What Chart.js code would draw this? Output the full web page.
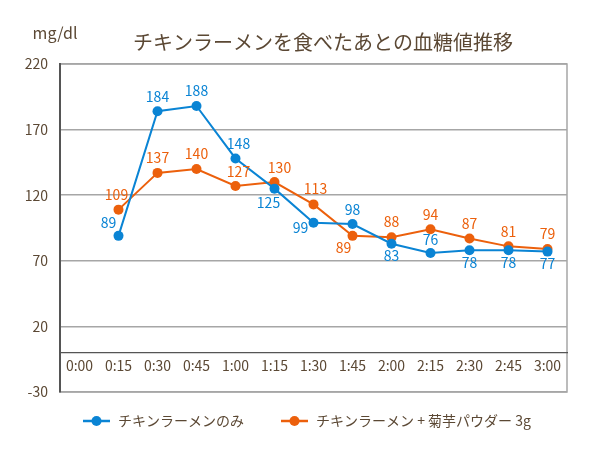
<!DOCTYPE html>
<html lang="ja">
<head>
<meta charset="utf-8">
<script src="https://cdn.jsdelivr.net/npm/chart.js@4.4.1/dist/chart.umd.min.js"></script>
<style>
  html, body { margin: 0; padding: 0; background: #fff; }
  #wrap { width: 600px; height: 456px; }
</style>
</head>
<body>
<div id="wrap"><canvas id="glucoseChart"></canvas></div>
<script>
// data
const timeLabels = ['0:00', '0:15', '0:30', '0:45', '1:00', '1:15', '1:30', '1:45', '2:00', '2:15', '2:30', '2:45', '3:00'];
const ramenOnly = [null, 89, 184, 188, 148, 125, 99, 98, 83, 76, 78, 78, 77];
const ramenKikuimo = [null, 109, 137, 140, 127, 130, 113, 89, 88, 94, 87, 81, 79];
const seriesNames = ['チキンラーメンのみ', 'チキンラーメン + 菊芋パウダー 3g'];
const yTicks = [-30, 20, 70, 120, 170, 220];

const FONT = '"Noto Sans CJK JP", "Noto Sans", sans-serif';
const TEXT = '#5b4834';
const BLUE = '#0a84d4';
const ORANGE = '#ec600c';

// value label offsets [dx, dy] from each point
const blueLabelPos = [null, [-10, -13], [0, -15], [0, -15], [3, -15], [-6, 14], [-13, 5], [0, -14], [0, 12], [0, -13], [0, 12], [0, 12], [0, 12]];
const orangeLabelPos = [null, [-2, -15], [0, -15], [0, -15], [3, -14], [5, -14], [2, -16], [-9, 12], [0, -15], [0, -15], [0, -15], [0, -15], [0, -15]];

const frame = {
    id: 'frame',
    beforeDraw(chart) {
        const { ctx, chartArea: a } = chart;
        ctx.save();
        ctx.strokeStyle = '#a6a6a6';
        ctx.lineWidth = 1.5;
        ctx.strokeRect(a.left, a.top, a.right - a.left, a.bottom - a.top);
        ctx.restore();
    }
};

const valueLabels = {
    id: 'valueLabels',
    afterDatasetsDraw(chart) {
        const ctx = chart.ctx;
        const offsets = [blueLabelPos, orangeLabelPos];
        ctx.save();
        ctx.font = '14px ' + FONT;
        ctx.textAlign = 'center';
        ctx.textBaseline = 'middle';
        chart.data.datasets.forEach((ds, di) => {
            const meta = chart.getDatasetMeta(di);
            ctx.fillStyle = ds.borderColor;
            meta.data.forEach((pt, i) => {
                const v = ds.data[i];
                if (v === null) return;
                const off = offsets[di][i];
                ctx.fillText(String(v), pt.x + off[0], pt.y + off[1]);
            });
        });
        ctx.restore();
    }
};

const headerLegend = {
    id: 'headerLegend',
    afterDraw(chart) {
        const ctx = chart.ctx;
        ctx.save();
        ctx.fillStyle = TEXT;
        ctx.textBaseline = 'middle';
        ctx.textAlign = 'center';
        ctx.font = '20px ' + FONT;
        ctx.fillText('チキンラーメンを食べたあとの血糖値推移', 323, 42);
        ctx.font = '16px ' + FONT;
        ctx.fillText('mg/dl', 55, 33);

        // legend
        const items = [
            { x: 83, color: BLUE, text: seriesNames[0] },
            { x: 281, color: ORANGE, text: seriesNames[1] }
        ];
        const y = 421;
        items.forEach(it => {
            ctx.strokeStyle = it.color;
            ctx.lineWidth = 2.5;
            ctx.beginPath();
            ctx.moveTo(it.x, y);
            ctx.lineTo(it.x + 27, y);
            ctx.stroke();
            ctx.fillStyle = it.color;
            ctx.beginPath();
            ctx.arc(it.x + 13.5, y, 5, 0, Math.PI * 2);
            ctx.fill();
            ctx.fillStyle = TEXT;
            ctx.textAlign = 'left';
            ctx.font = '14px ' + FONT;
            ctx.fillText(it.text, it.x + 35, y);
        });
        ctx.restore();
    }
};

const ctx = document.getElementById('glucoseChart');
new Chart(ctx, {
    type: 'line',
    data: {
        labels: timeLabels,
        datasets: [{
            label: seriesNames[0],
            data: ramenOnly,
            borderColor: BLUE,
            backgroundColor: BLUE,
            borderWidth: 2,
            pointRadius: 5,
            pointBorderWidth: 0,
            tension: 0
        }, {
            label: seriesNames[1],
            data: ramenKikuimo,
            borderColor: ORANGE,
            backgroundColor: ORANGE,
            borderWidth: 2,
            pointRadius: 5,
            pointBorderWidth: 0,
            tension: 0
        }]
    },
    options: {
        responsive: true,
        maintainAspectRatio: false,
        animation: false,
        layout: {
            padding: { left: 0, right: 33, top: 64, bottom: 64 }
        },
        plugins: {
            legend: { display: false },
            title: { display: false },
            tooltip: { enabled: false }
        },
        scales: {
            x: {
                type: 'category',
                offset: true,
                position: { y: 0 },
                afterFit: scale => { scale.height = 0; },
                grid: { display: true, drawOnChartArea: false, drawTicks: false },
                border: { display: true, color: '#555555', width: 1.2 },
                ticks: {
                    color: TEXT,
                    font: { family: FONT, size: 14 },
                    padding: 5,
                    autoSkip: false,
                    maxRotation: 0
                }
            },
            y: {
                min: yTicks[0],
                max: yTicks[yTicks.length - 1],
                afterFit: scale => { scale.width = 60; },
                afterBuildTicks: scale => { scale.ticks = yTicks.map(v => ({ value: v })); },
                grid: { color: '#a6a6a6', lineWidth: 1.5, drawTicks: false },
                border: { display: true, color: '#555555', width: 2 },
                ticks: {
                    color: TEXT,
                    font: { family: FONT, size: 14 },
                    padding: 12
                }
            }
        }
    },
    plugins: [frame, valueLabels, headerLegend]
});
</script>
</body>
</html>
